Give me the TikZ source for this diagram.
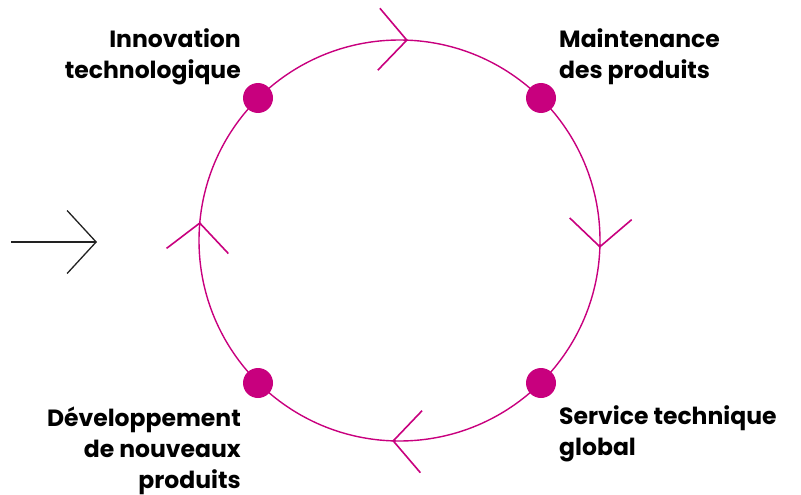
\documentclass[tikz,border=0pt]{standalone}
\usepackage{fontspec}
\setmainfont{Poppins}
\usetikzlibrary{arrows.meta,calc}
\definecolor{cycmag}{HTML}{C8007E}
\definecolor{entree}{HTML}{222222}
\tikzset{
  etape/.style={circle,fill=cycmag,inner sep=0pt,minimum size=30pt},
  lbl/.style={font=\bfseries\fontsize{23.5}{31}\selectfont,inner sep=0pt},
  chevron/.style={draw=cycmag,line width=1.6pt,-{Straight Barb[length=28pt,width=62pt]}},
  boucle/.style={draw=cycmag,line width=1.4pt},
}

\begin{document}
\begin{tikzpicture}[x=1pt,y=-1pt]
  \useasboundingbox (0,0) rectangle (801,495);
  % cycle
  \coordinate (ctr) at (399.5,240.5);
  \draw[boucle] (ctr) circle (200.5);
  \foreach \a in {272.4,2.1,92.1,185.3}
    \draw[chevron] ($(ctr)+(\a-1:200.5)$) -- ($(ctr)+(\a:200.5)$);
  % etapes
  \node[etape] (innovPt) at (258,98) {};
  \node[etape] (maintPt) at (541,98) {};
  \node[etape] (servPt) at (541,383) {};
  \node[etape] (devPt) at (258,383) {};
  \node[lbl,anchor=base east,align=right] (innov) at (241,78) {Innovation\\technologique};
  \node[lbl,anchor=base west,align=left] (maint) at (559,78) {Maintenance\\des produits};
  \node[lbl,anchor=base west,align=left] (serv) at (559,455) {Service technique\\global};
  \node[lbl,anchor=base east,align=right] (dev) at (241,488) {Développement\\de nouveaux\\produits};
  % entree
  \coordinate (src) at (11,242);
  \coordinate (dst) at (97,242);
  \draw[entree,line width=1.3pt,-{Straight Barb[length=29pt,width=63pt]}] (src) -- (dst);
\end{tikzpicture}
\end{document}
